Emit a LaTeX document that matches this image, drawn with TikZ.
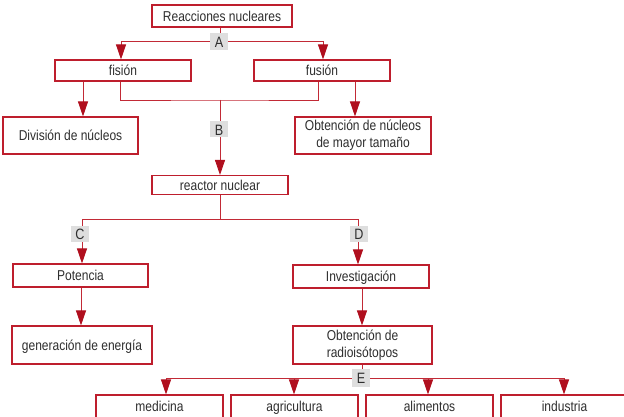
\documentclass[tikz,border=0pt]{standalone}
\usepackage{fontspec}
\setmainfont{Liberation Sans}[FakeStretch=0.84]
\usetikzlibrary{arrows.meta}
\definecolor{bord}{HTML}{BE1E2D}
\definecolor{linec}{HTML}{C22A36}
\definecolor{tipc}{HTML}{B00F1E}
\definecolor{txt}{HTML}{2E2E2E}
\definecolor{lblgray}{HTML}{DEDEDE}
\tikzset{
  box/.style={draw=bord, line width=1.1pt, fill=white, text=txt, inner sep=0pt,
    align=center, font=\fontsize{14.3}{17}\selectfont},
  oneline/.style={text height=10.5pt, text depth=0pt},
  lbl/.style={fill=lblgray, text=txt, inner sep=0pt, minimum width=18pt,
    minimum height=16pt, text height=11.5pt, text depth=0pt,
    font=\fontsize{15}{17}\selectfont},
  conn/.style={draw=linec, line width=0.9pt},
  arr/.style={conn, -{Triangle[length=15pt,width=10pt,color=tipc]}},
}
\begin{document}
\begin{tikzpicture}[x=1pt,y=-1pt]
\useasboundingbox (0,0) rectangle (624,417);
\clip (0,0) rectangle (624,417);

% boxes
\node[box, oneline, minimum width=140pt, minimum height=22pt] (reac) at (222,16) {Reacciones nucleares};
\node[box, oneline, minimum width=136pt, minimum height=21pt] (fis) at (123,70.5) {fisión};
\node[box, oneline, minimum width=136pt, minimum height=21pt] (fus) at (322,70.5) {fusión};
\node[box, oneline, minimum width=135pt, minimum height=37pt] (div) at (70.5,135.5) {División de núcleos};
\node[box, minimum width=136pt, minimum height=37pt] (obt) at (363,135.5) {Obtención de núcleos\\de mayor tamaño};
\node[box, oneline, minimum width=136pt, minimum height=19pt] (rea) at (220,185) {reactor nuclear};
\node[box, oneline, minimum width=135pt, minimum height=23pt] (pot) at (80.5,275.5) {Potencia};
\node[box, oneline, minimum width=136pt, minimum height=23pt] (inv) at (361,276.5) {Investigación};
\node[box, oneline, minimum width=140pt, minimum height=38pt] (gen) at (82,345) {generación de energía};
\node[box, minimum width=139pt, minimum height=38pt] (rad) at (362.5,345) {Obtención de\\radioisótopos};
\node[box, oneline, minimum width=127pt, minimum height=23pt] (med) at (159.5,406.5) {medicina};
\node[box, oneline, minimum width=127pt, minimum height=23pt] (agr) at (294.5,406.5) {agricultura};
\node[box, oneline, minimum width=127pt, minimum height=23pt] (ali) at (429.5,406.5) {alimentos};
\node[box, oneline, minimum width=127pt, minimum height=23pt] (ind) at (564.5,406.5) {industria};

% junctions and connector columns
\coordinate (jA) at (220,41);
\coordinate (jB) at (220,100);
\coordinate (jC) at (220,219);
\coordinate (jE) at (362,378);
\coordinate (xfisA) at (121,0);
\coordinate (xfusA) at (323,0);
\coordinate (xdiv) at (83,0);
\coordinate (xfisB) at (120,0);
\coordinate (xfusB) at (318,0);
\coordinate (xobt) at (355,0);
\coordinate (xpot) at (82,0);
\coordinate (xinv) at (358,0);
\coordinate (xgen) at (81,0);
\coordinate (xrad) at (362,0);
\coordinate (xmed) at (166,0);
\coordinate (xagr) at (294,0);
\coordinate (xali) at (428,0);
\coordinate (xind) at (564,0);

% connectors
\draw[conn] (reac.south -| jA) -- (jA);
\draw[arr] (jA) -| (fis.north -| xfisA);
\draw[arr] (jA) -| (fus.north -| xfusA);
\draw[arr] (fis.south -| xdiv) -- (div.north -| xdiv);
\draw[conn] (fis.south -| xfisB) |- (jB) -| (fus.south -| xfusB);
\draw[arr] (fus.south -| xobt) -- (obt.north -| xobt);
\draw[arr] (jB) -- (rea.north -| jB);
\draw[conn] (rea.south -| jC) -- (jC);
\draw[arr] (jC) -| (pot.north -| xpot);
\draw[arr] (jC) -| (inv.north -| xinv);
\draw[arr] (pot.south -| xgen) -- (gen.north -| xgen);
\draw[arr] (inv.south -| xrad) -- (rad.north -| xrad);
\draw[conn] (rad.south -| jE) -- (jE);
\draw[arr] (jE) -| (med.north -| xmed);
\draw[arr] (jE) -| (agr.north -| xagr);
\draw[arr] (jE) -| (ali.north -| xali);
\draw[arr] (jE) -| (ind.north -| xind);

% letter tags on the connectors
\node[lbl, minimum height=17pt] (tA) at (219,41.5) {A};
\node[lbl] (tB) at (219,129.5) {B};
\node[lbl] (tC) at (80,233.5) {C};
\node[lbl] (tD) at (359,233.5) {D};
\node[lbl, minimum height=18pt] (tE) at (361,378) {E};
\end{tikzpicture}
\end{document}
